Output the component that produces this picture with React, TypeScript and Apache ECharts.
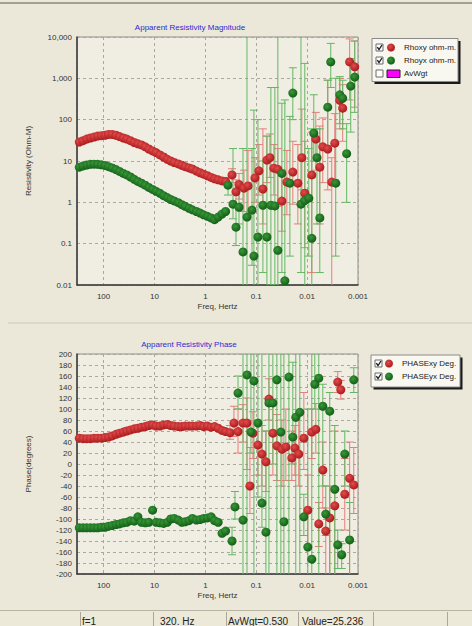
import React, { useEffect, useRef } from "react";
import * as echarts from "echarts";

// ---------- DATA ----------
// Frequencies (Hz) of the smooth, low-noise part of the sounding
const smoothFreq = [300, 254, 215, 182, 154, 131, 111, 94, 80, 68, 57, 48.5, 41, 35, 29.6, 25, 21.2, 18, 15.2, 12.9, 10.9, 9.3, 7.8, 6.6, 5.6, 4.8, 4.1, 3.4, 2.9, 2.5, 2.1, 1.8, 1.5, 1.27, 1.08, 0.91, 0.77, 0.66, 0.56, 0.47, 0.4];

const rhoXYSmooth = [28.7, 31, 34, 36, 38, 40, 41, 42, 44, 44, 42, 39, 36, 34, 31, 28, 26, 24.5, 22, 19.5, 17.5, 16, 14, 12.5, 11, 10, 9.2, 8.5, 7.9, 7.3, 6.8, 6.4, 5.7, 5.2, 4.8, 4.4, 4.0, 3.7, 3.5, 3.3, 3.2];
const rhoYXSmooth = [7.1, 7.6, 8.0, 8.3, 8.4, 8.3, 8.1, 7.8, 7.3, 6.8, 6.2, 5.6, 5.0, 4.6, 4.1, 3.6, 3.2, 2.9, 2.6, 2.3, 2.05, 1.85, 1.65, 1.45, 1.3, 1.17, 1.08, 0.98, 0.88, 0.8, 0.72, 0.66, 0.6, 0.55, 0.5, 0.46, 0.42, 0.38, 0.44, 0.52, 0.6];
const phaseXYSmooth = [47, 46, 46, 46, 47, 47, 47, 48, 49, 51, 54, 56, 58, 60, 62, 64, 65, 67, 68, 70, 71, 69, 69, 71, 72, 70, 69, 68, 68, 69, 69, 69, 69, 70, 68, 69, 67, 68, 65, 61, 59];
const phaseYXSmooth = [-116, -116, -116, -116, -116, -116, -115, -115, -113, -112, -110, -109, -107, -106, -103, -104, -96, -106, -107, -106, -84, -106, -107, -108, -106, -100, -99, -102, -106, -105, -103, -99, -102, -101, -99, -98, -96, -103, -106, -126, -122];

// Noisy low-frequency part: [freq Hz, value, error low, error high]
const rhoXYScatter = [
  [0.299, 4.6, 3.0, 6.5], [0.25, 1.8, 0.9, 3.5], [0.218, 2.7, 1.2, 5], [0.174, 2.2, 0.6, 6],
  [0.145, 2.5, 0.5, 18], [0.106, 3.9, 1.0, 12], [0.0886, 5.8, 1.5, 25], [0.0739, 2.1, 0.3, 60],
  [0.0617, 10.5, 3, 40], [0.0538, 12, 4, 45], [0.045, 6.7, 1.5, 25], [0.0376, 6.3, 0.8, 20],
  [0.0313, 1.07, 0.2, 6], [0.025, 3.1, 0.5, 18], [0.0191, 5.4, 0.9, 30], [0.0152, 2.9, 0.3, 25],
  [0.0127, 12, 2, 180], [0.0111, 1.66, 0.08, 30], [0.00809, 4.6, 0.02, 50], [0.00675, 34, 6, 150],
  [0.00563, 7.1, 0.3, 70], [0.00492, 22, 3, 110], [0.00393, 19.5, 2, 900], [0.00328, 3.1, 0.005, 12],
  [0.00286, 27, 3.5, 140], [0.00228, 295, 60, 1000], [0.002, 190, 30, 700], [0.00146, 2500, 300, 9000],
  [0.00116, 1900, 200, 8000],
];
const rhoYXScatter = [
  [0.359, 2.6, 1.5, 4], [0.286, 0.9, 0.4, 20], [0.25, 0.25, 0.09, 0.8], [0.218, 0.76, 0.3, 2],
  [0.182, 0.063, 0.001, 20], [0.152, 0.44, 0.001, 100000], [0.121, 0.65, 0.03, 20], [0.111, 0.05, 0.001, 170],
  [0.0926, 0.145, 0.005, 100], [0.0739, 0.85, 0.02, 10], [0.0617, 0.145, 0.001, 40], [0.0515, 0.85, 0.01, 600],
  [0.043, 0.82, 0.01, 600], [0.0376, 0.069, 0.001, 100000], [0.0313, 5, 0.02, 250], [0.0274, 0.0126, 0.001, 300],
  [0.0218, 2.9, 0.05, 120], [0.0191, 440, 100, 1800], [0.0132, 0.9, 0.02, 100000], [0.0111, 1.1, 0.001, 2300],
  [0.00927, 1.26, 0.05, 20], [0.00809, 0.135, 0.001, 60], [0.0074, 47, 10, 400], [0.0064, 12, 0.3, 60],
  [0.00563, 0.42, 0.02, 60], [0.00393, 200, 20, 900], [0.00343, 2500, 600, 7000], [0.00274, 2.9, 0.05, 1000],
  [0.00228, 400, 80, 1100], [0.002, 330, 60, 900], [0.00167, 15, 1, 80], [0.00139, 650, 50, 3000],
  [0.00116, 1070, 150, 8000],
];
const phaseXYScatter = [
  [0.328, 57, 45, 70], [0.274, 74.5, 50, 105], [0.228, 59, 20, 100], [0.182, 74.5, 40, 108],
  [0.152, 74.5, -10, 120], [0.133, -40, -90, 30], [0.116, 56, 10, 95], [0.0926, 34.5, -20, 80],
  [0.0773, 18, -40, 70], [0.0645, 4, -50, 60], [0.0563, 118, 80, 155], [0.0471, 56, -20, 110],
  [0.0393, 33, -30, 90], [0.0313, 27, -40, 80], [0.0262, 31, -30, 100], [0.02, 11, -30, 60],
  [0.0174, 29, -20, 70], [0.0146, 18, -40, 90], [0.0116, 47, -10, 130], [0.00969, -84, -150, -20],
  [0.00809, 58, 10, 100], [0.00675, 63, 20, 110], [0.0059, -109, -150, -70], [0.00492, -11, -80, 40],
  [0.0043, -122, -250, -80], [0.00359, -98, -250, -40], [0.00286, -76, -250, 60], [0.0025, 149, 130, 168],
  [0.00218, 135, 118, 152], [0.00182, -55, -120, 10], [0.00146, -26, -250, 40], [0.00121, -38, -90, 30],
];
const phaseYXScatter = [
  [0.299, -140, -165, -115], [0.262, -78, -100, -50], [0.228, 129, 100, 160], [0.182, -102, -250, 250],
  [0.152, 162, -250, 250], [0.127, 58, 20, 250], [0.111, 151, -250, 250], [0.0926, 74.5, -60, 250],
  [0.0773, -71, -115, 250], [0.0645, -124, -250, 60], [0.0563, 111, -250, 250], [0.0471, 111, 0, 250],
  [0.0393, 153, -250, 250], [0.0328, 58, -250, 210], [0.0286, -105, -250, 250], [0.0228, 158, -250, 250],
  [0.0191, 49, 0, 185], [0.0167, 85, -250, 250], [0.0139, 94, -250, 250], [0.0116, -96, -130, -55],
  [0.00969, -151, -250, 100], [0.00809, -173, -250, 250], [0.00706, 145, 100, 250], [0.0059, 156, -250, 250],
  [0.00492, 105, -40, 145], [0.0043, -91, -130, -40], [0.00359, 96, -250, 130], [0.00286, -46, -250, 70],
  [0.0025, -147, -190, -120], [0.00209, -165, -190, -145], [0.00182, 18, -40, 60], [0.00146, -138, -250, -70],
  [0.00121, 153, 130, 175],
];

const topTitle = "Apparent Resistivity Magnitude";
const bottomTitle = "Apparent Resistivity Phase";
const topLegend = ["Rhoxy ohm-m.", "Rhoyx ohm-m.", "AvWgt"];
const bottomLegend = ["PHASExy Deg.", "PHASEyx Deg."];
const statusTexts = ["f=1", "320. Hz", "AvWgt=0.530", "Value=25.236"];

// ---------- STYLE ----------
const FF = "'Liberation Sans', Arial, sans-serif";
const RED_DOT = {
  type: "radial", x: 0.4, y: 0.38, r: 0.65,
  colorStops: [{ offset: 0, color: "#e24c4c" }, { offset: 1, color: "#a8181a" }],
};
const GREEN_DOT = {
  type: "radial", x: 0.4, y: 0.38, r: 0.65,
  colorStops: [{ offset: 0, color: "#389838" }, { offset: 1, color: "#125c16" }],
};
const RED_BAR = "#e77e7b";
const GREEN_BAR = "#62b762";

function fmtFreq(v: number) {
  const l = Math.log10(v);
  const e = Math.round(l);
  if (Math.abs(l - e) > 1e-6) return "";
  return e >= 0 ? String(Math.pow(10, e)) : Math.pow(10, e).toFixed(-e);
}
function fmtRho(v: number) {
  const l = Math.log10(v);
  const e = Math.round(l);
  if (Math.abs(l - e) > 1e-6) return "";
  return e >= 0 ? Math.pow(10, e).toLocaleString("en-US") : Math.pow(10, e).toFixed(-e);
}

function errRender(color: string) {
  return (params: any, api: any) => {
    const f = api.value(0);
    const lo = api.value(1);
    const hi = api.value(2);
    const a = api.coord([f, hi]);
    const b = api.coord([f, lo]);
    const w = 4;
    const style = { stroke: color, lineWidth: 1 };
    return {
      type: "group",
      children: [
        { type: "line", shape: { x1: a[0], y1: a[1], x2: b[0], y2: b[1] }, style },
        { type: "line", shape: { x1: a[0] - w, y1: a[1], x2: a[0] + w, y2: a[1] }, style },
        { type: "line", shape: { x1: b[0] - w, y1: b[1], x2: b[0] + w, y2: b[1] }, style },
      ],
    };
  };
}

function text(x: number, y: number, t: string, size: number, fill: string, align = "left", extra: any = {}) {
  return {
    type: "text", x, y, z: 100,
    style: {
      text: t, fill, font: `${size}px ${FF}`, fontSize: size, fontFamily: FF,
      textAlign: align, align, textVerticalAlign: "middle", verticalAlign: "middle", ...extra,
    },
  };
}
function checkbox(x: number, y: number, checked: boolean) {
  const els: any[] = [
    { type: "rect", shape: { x, y: y - 3.5, width: 7, height: 7 }, style: { fill: "#ffffff", stroke: "#6b6b6b", lineWidth: 1 }, z: 100 },
  ];
  if (checked) {
    els.push({
      type: "polyline", z: 101,
      shape: { points: [[x + 1.3, y - 0.3], [x + 3, y + 2], [x + 6, y - 2.5]] },
      style: { stroke: "#1a1a1a", lineWidth: 1.3, fill: "none" },
    });
  }
  return els;
}
function dot(cx: number, cy: number, fill: any) {
  return { type: "circle", shape: { cx, cy, r: 4 }, style: { fill }, z: 101 };
}

export default function App() {
  const ref = useRef<HTMLDivElement>(null);
  useEffect(() => {
    if (!ref.current) return;
    const chart = echarts.init(ref.current, null, { renderer: "svg" });

    const grids = [
      { left: 77, top: 37, width: 281, height: 248 },
      { left: 77, top: 354, width: 281, height: 220 },
    ];

    const xAxes = [0, 1].map((i) => ({
      type: "log", logBase: 10, gridIndex: i, min: 0.001, max: 333, inverse: true,
      axisLine: { show: true, onZero: false, lineStyle: { color: "#3a3a3a", width: 1.5 } },
      axisTick: { show: false },
      axisLabel: { interval: 0, fontSize: 8, fontFamily: FF, color: "#333", margin: 7, formatter: fmtFreq },
      splitLine: { show: true, lineStyle: { color: "#a9a79e", type: [3, 3], width: 1 } },
      name: "Freq, Hertz", nameLocation: "middle", nameGap: 17,
      nameTextStyle: { fontSize: 8, fontFamily: FF, color: "#333" },
    }));

    const yAxes = [
      {
        type: "log", logBase: 10, gridIndex: 0, min: 0.01, max: 10000,
        axisLine: { show: true, onZero: false, lineStyle: { color: "#3a3a3a", width: 1.5 } },
        axisTick: { show: false },
        axisLabel: { interval: 0, fontSize: 8, fontFamily: FF, color: "#333", margin: 5, formatter: fmtRho },
        splitLine: { show: true, lineStyle: { color: "#a9a79e", type: [3, 3], width: 1 } },
        name: "Resistivity (Ohm-M)", nameLocation: "middle", nameGap: 45, nameRotate: 90,
        nameTextStyle: { fontSize: 8, fontFamily: FF, color: "#333" },
      },
      {
        type: "value", gridIndex: 1, min: -200, max: 200, interval: 20,
        axisLine: { show: true, onZero: false, lineStyle: { color: "#3a3a3a", width: 1.5 } },
        axisTick: { show: false },
        axisLabel: { interval: 0, fontSize: 8, fontFamily: FF, color: "#333", margin: 5 },
        splitLine: { show: true, lineStyle: { color: "#a9a79e", type: [3, 3], width: 1 } },
        name: "Phase(degrees)", nameLocation: "middle", nameGap: 45, nameRotate: 90,
        nameTextStyle: { fontSize: 8, fontFamily: FF, color: "#333" },
      },
    ];

    const mkErr = (data: number[][], idx: number, color: string) => ({
      type: "custom", xAxisIndex: idx, yAxisIndex: idx, clip: true, z: 2,
      renderItem: errRender(color),
      encode: { x: 0, y: [1, 2] },
      data: data.map((d) => [d[0], d[2], d[3]]),
      silent: true,
    });
    const mkDots = (freq: number[], smooth: number[], scat: number[][], idx: number, color: any, z: number) => ({
      type: "scatter", xAxisIndex: idx, yAxisIndex: idx, symbol: "circle", symbolSize: 9, z,
      itemStyle: { color, opacity: 1 },
      data: freq.map((f, i) => [f, smooth[i]]).concat(scat.map((d) => [d[0], d[1]])),
      silent: true,
    });

    const graphic: any[] = [
      // top toolbar strip
      { type: "rect", shape: { x: 0, y: 2, width: 472, height: 2 }, style: { fill: "#a3a092" } },
      // separator between panels
      { type: "rect", shape: { x: 8, y: 322.5, width: 464, height: 1 }, style: { fill: "#cac7b8" } },
      // status bar
      { type: "rect", shape: { x: 0, y: 610, width: 472, height: 16 }, style: { fill: "#ece9d8" } },
      { type: "rect", shape: { x: 0, y: 610, width: 472, height: 1 }, style: { fill: "#b8b5a6" } },
      ...[80, 153, 226, 298, 373, 447].map((x) => ({
        type: "rect", shape: { x, y: 612, width: 1, height: 14 }, style: { fill: "#aca899" },
      })),
      text(82, 621, statusTexts[0], 10, "#222"),
      text(160, 621, statusTexts[1], 10, "#222"),
      text(228, 621, statusTexts[2], 10, "#222"),
      text(302, 621, statusTexts[3], 10, "#222"),
      // titles
      text(190, 27, topTitle, 8, "#2b2bd0", "center"),
      text(189, 344, bottomTitle, 8, "#2b2bd0", "center"),
      // top legend
      { type: "rect", shape: { x: 374.5, y: 41, width: 86, height: 43 }, style: { fill: "#1a1a1a" }, z: 99 },
      { type: "rect", shape: { x: 372, y: 38.5, width: 86, height: 43 }, style: { fill: "#f8f7f0", stroke: "#8a8a8a", lineWidth: 1 }, z: 99 },
      ...checkbox(376, 47.5, true),
      dot(391, 47.5, RED_DOT),
      text(404, 47.5, topLegend[0], 8, "#222"),
      ...checkbox(376, 60.5, true),
      dot(391, 60.5, GREEN_DOT),
      text(404, 60.5, topLegend[1], 8, "#222"),
      ...checkbox(376, 73.5, false),
      { type: "rect", shape: { x: 387, y: 70, width: 13, height: 7.5 }, style: { fill: "#ff00ff", stroke: "#222", lineWidth: 1 }, z: 101 },
      text(404, 73.5, topLegend[2], 8, "#222"),
      // bottom legend
      { type: "rect", shape: { x: 373.5, y: 357.5, width: 89, height: 32 }, style: { fill: "#1a1a1a" }, z: 99 },
      { type: "rect", shape: { x: 371, y: 355, width: 89, height: 32 }, style: { fill: "#f8f7f0", stroke: "#8a8a8a", lineWidth: 1 }, z: 99 },
      ...checkbox(375, 363.5, true),
      dot(389, 363.5, RED_DOT),
      text(402, 363.5, bottomLegend[0], 8, "#222"),
      ...checkbox(375, 376.5, true),
      dot(389, 376.5, GREEN_DOT),
      text(402, 376.5, bottomLegend[1], 8, "#222"),
    ];

    chart.setOption({
      animation: false,
      backgroundColor: "#ebe8d9",
      textStyle: { fontFamily: FF },
      grid: grids.map((g) => ({
        ...g, show: true, backgroundColor: "#f0eee3", borderColor: "#8c8c8c", borderWidth: 1, containLabel: false,
      })),
      xAxis: xAxes,
      yAxis: yAxes,
      series: [
        mkErr(rhoXYScatter, 0, RED_BAR),
        mkErr(rhoYXScatter, 0, GREEN_BAR),
        mkDots(smoothFreq, rhoXYSmooth, rhoXYScatter, 0, RED_DOT, 3),
        mkDots(smoothFreq, rhoYXSmooth, rhoYXScatter, 0, GREEN_DOT, 4),
        mkErr(phaseXYScatter, 1, RED_BAR),
        mkErr(phaseYXScatter, 1, GREEN_BAR),
        mkDots(smoothFreq, phaseXYSmooth, phaseXYScatter, 1, RED_DOT, 3),
        mkDots(smoothFreq, phaseYXSmooth, phaseYXScatter, 1, GREEN_DOT, 4),
      ],
      graphic,
    });
    return () => chart.dispose();
  }, []);
  return <div ref={ref} style={{ position: "absolute", left: 0, top: 0, width: 472, height: 626 }} />;
}
